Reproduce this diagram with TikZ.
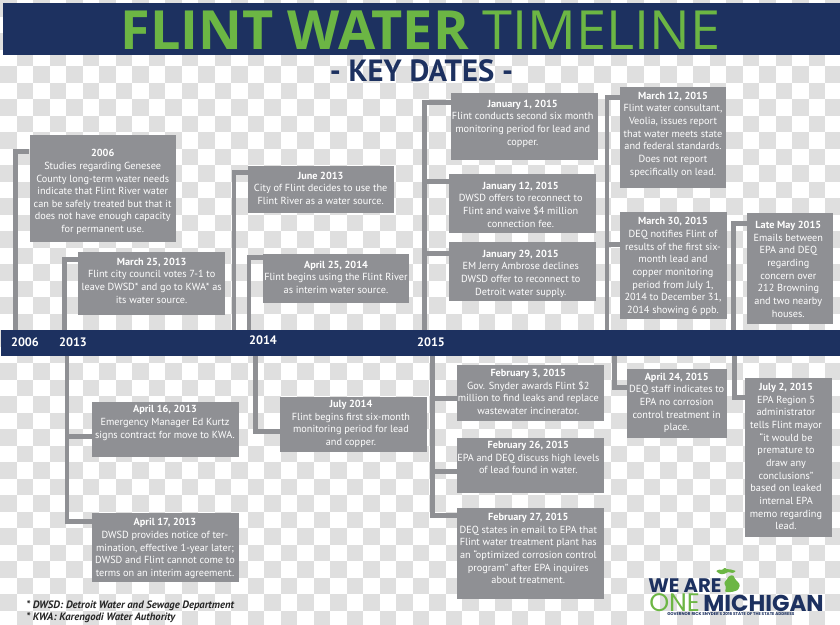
\documentclass[tikz,border=0pt]{standalone}
\usepackage{fontspec}
\setmainfont{PT Sans}
\newfontfamily\titlefont{Open Sans}
\newfontfamily\logofont{Poppins}
\usepackage{xcolor}
\usetikzlibrary{calc,fit,positioning}
\definecolor{navy}{HTML}{1D3160}
\definecolor{leaf}{HTML}{6CB644}
\definecolor{boxgray}{HTML}{8F9094}
\definecolor{gridgray}{HTML}{DFDFDF}
\tikzset{
  evbox/.style={fill=boxgray,inner sep=0pt},
  evtext/.style={anchor=north,align=center,inner sep=0pt,yshift=-1.1pt,text=white,font=\fontsize{7.7}{9.5}\selectfont,execute at begin node=\strut},
  link/.style={draw=boxgray,line width=3.4pt},
  yearlabel/.style={text=white,inner sep=0pt,font=\bfseries\fontsize{9.2}{12}\selectfont},
}
\begin{document}
\begin{tikzpicture}[x=0.75pt,y=-0.75pt]
  \useasboundingbox (0,0) rectangle (840,625);
  % background squares
  \begin{scope}
    \clip (0,0) rectangle (840,625);
    \fill[white] (0,0) rectangle (840,625);
    \foreach \i in {0,...,50}{
      \foreach \j in {0,...,37}{
        \ifodd\numexpr\i+\j\relax\else
          \fill[gridgray] ({16.5*\i},{16.5*\j}) rectangle ++(16.5,16.5);
        \fi
      }
    }
  \end{scope}
  % heading
  \node[fill=navy,inner sep=0pt,fit={(3,3) (840,55)}] (banner) {};
  \node[text=leaf,inner sep=0pt,font=\titlefont\fontsize{40.5}{44}\selectfont] (title) at (420.5,30) {\textbf{FLINT WATER} TIMELINE};
  \node[text=navy,inner sep=0pt,font=\bfseries\fontsize{23}{26}\selectfont] (keydates) at (421.5,70.5) {- KEY DATES -};
  % time bar
  \node[fill=navy,inner sep=0pt,fit={(1,330) (840,356)}] (bar) {};
  \node[yearlabel] (y2006) at (25,342) {2006};
  \node[yearlabel] (y2013) at (73,342) {2013};
  \node[yearlabel] (y2014) at (263,340) {2014};
  \node[yearlabel] (y2015) at (431,342) {2015};
  % boxes above the bar
  \node[evbox,fit={(29.5,135) (176,242)}] (e2006) {};
  \node[evbox,fit={(78,252) (225,315)}] (emar25) {};
  \node[evbox,fit={(248,166) (394,213)}] (ejun13) {};
  \node[evbox,fit={(263,254) (409,303)}] (eapr25) {};
  \node[evbox,fit={(451,93) (598,160)}] (ejan1) {};
  \node[evbox,fit={(449,174) (596,233)}] (ejan12) {};
  \node[evbox,fit={(449,242) (596,301)}] (ejan29) {};
  \node[evbox,fit={(620,87) (726,188)}] (emar12) {};
  \node[evbox,fit={(620,212) (727,319)}] (emar30) {};
  \node[evbox,fit={(747,213) (833,324)}] (elate) {};
  % boxes below the bar
  \node[evbox,fit={(92,402) (239,457)}] (eapr16) {};
  \node[evbox,fit={(92,513) (239,582)}] (eapr17) {};
  \node[evbox,fit={(280,397) (427,452)}] (ejul14) {};
  \node[evbox,fit={(457,365) (604,421)}] (efeb3) {};
  \node[evbox,fit={(457,438) (604,493)}] (efeb26) {};
  \node[evbox,fit={(457,508) (604,599)}] (efeb27) {};
  \node[evbox,fit={(627,369) (727,438)}] (eapr24) {};
  \node[evbox,fit={(745,378) (832,537)}] (ejul2) {};
  % stems
  \coordinate (s2006) at (15.5,0 |- bar.north);
  \coordinate (smar25) at (64.5,0 |- bar.north);
  \coordinate (sjun13) at (234,0 |- bar.north);
  \coordinate (sapr25) at (249,0 |- bar.north);
  \coordinate (sjan) at (424.7,0 |- bar.north);
  \coordinate (smar) at (607,0 |- bar.north);
  \coordinate (slate) at (733.3,0 |- bar.north);
  \coordinate (s2013) at (67,0 |- bar.south);
  \coordinate (sjul14) at (255.5,0 |- bar.south);
  \coordinate (sfeb) at (432.5,0 |- bar.south);
  \coordinate (sapr24) at (614.7,0 |- bar.south);
  \coordinate (sjul2) at (734.7,0 |- bar.south);
  \draw[link] (s2006) |- ($(e2006.north west)+(0,16.5)$);
  \draw[link] (smar25) |- ($(emar25.north west)+(0,8)$);
  \draw[link] (sjun13) |- ($(ejun13.north west)+(0,6.7)$);
  \draw[link] (sapr25) |- ($(eapr25.north west)+(0,4)$);
  \draw[link] (sjan) |- ($(ejan1.north west)+(0,9.5)$);
  \draw[link] (sjan) |- ($(ejan12.north west)+(0,7.5)$);
  \draw[link] (sjan) |- ($(ejan29.north west)+(0,12)$);
  \draw[link] (smar) |- ($(emar12.north west)+(0,10.5)$);
  \draw[link] (smar) |- ($(emar30.north west)+(0,32.7)$);
  \draw[link] (slate) |- ($(elate.north west)+(0,11)$);
  \draw[link] (s2013) |- ($(eapr16.north west)+(0,34.6)$);
  \draw[link] (s2013) |- ($(eapr17.north west)+(0,9)$);
  \draw[link] (sjul14) |- ($(ejul14.north west)+(0,34.5)$);
  \draw[link] (sfeb) |- ($(efeb3.north west)+(0,34)$);
  \draw[link] (sfeb) |- ($(efeb26.north west)+(0,34)$);
  \draw[link] (sfeb) |- ($(efeb27.north west)+(0,8)$);
  \draw[link] (sapr24) |- ($(eapr24.north west)+(0,19)$);
  \draw[link] (sjul2) |- ($(ejul2.north west)+(0,20)$);
  % texts above the bar
  \node[evtext] (t2006) at (102.7,147.6) {\textbf{2006}\\Studies regarding Genesee\\County long-term water needs\\indicate that Flint River water\\can  be safely treated but that it\\does not have enough capacity\\for permanent use.};
  \node[evtext] (tmar25) at (151.7,256) {\textbf{March 25, 2013}\\Flint city council votes 7-1 to\\leave DWSD* and go to KWA* as\\its water source.};
  \node[evtext] (tjun13) at (320.7,170) {\textbf{June 2013}\\City of Flint decides to use the\\Flint River as a water source.};
  \node[evtext] (tapr25) at (336,259) {\textbf{April 25, 2014}\\Flint begins using the Flint River\\as interim water source.};
  \node[evtext] (tjan1) at (522.7,98) {\textbf{January 1, 2015}\\Flint conducts second six month\\monitoring period for lead and\\copper.};
  \node[evtext] (tjan12) at (520.7,180) {\textbf{January 12, 2015}\\DWSD offers to reconnect to\\Flint and waive \$4 million\\connection fee.};
  \node[evtext] (tjan29) at (520.7,248) {\textbf{January 29, 2015}\\EM Jerry Ambrose declines\\DWSD offer to reconnect to\\Detroit water supply.};
  \node[evtext] (tmar12) at (673,90) {\textbf{March 12, 2015}\\Flint water consultant,\\Veolia, issues report\\that water meets state\\and federal standards.\\Does not report\\specifically on lead.};
  \node[evtext] (tmar30) at (673,215.6) {\textbf{March 30, 2015}\\DEQ notifies Flint of\\results of the first six-\\month lead and\\copper monitoring\\period from July 1,\\2014 to December 31,\\2014 showing 6 ppb.};
  \node[evtext] (tlate) at (788.3,219.3) {\textbf{Late May 2015}\\Emails between\\EPA and DEQ\\regarding\\concern over\\212 Browning\\and two nearby\\houses.};
  % texts below the bar
  \node[evtext] (tapr16) at (165,403.6) {\textbf{April 16, 2013}\\Emergency Manager Ed Kurtz\\signs contract for move to KWA.};
  \node[evtext] (tapr17) at (165,516.6) {\textbf{April 17, 2013}\\DWSD provides notice of ter-\\mination, effective 1-year later;\\DWSD and Flint cannot come to\\terms on an interim agreement.};
  \node[evtext] (tjul14) at (351,398.3) {\textbf{July 2014}\\Flint begins first six-month\\monitoring period for lead\\and copper.};
  \node[evtext] (tfeb3) at (528.3,367.3) {\textbf{February 3, 2015}\\Gov. Snyder awards Flint \$2\\million to find leaks and replace\\wastewater incinerator.};
  \node[evtext] (tfeb26) at (528.3,439.3) {\textbf{February 26, 2015}\\EPA and DEQ discuss high levels\\of lead found in water.};
  \node[evtext] (tfeb27) at (528.3,511.3) {\textbf{February 27, 2015}\\DEQ states in email to EPA that\\Flint water treatment plant has\\an “optimized corrosion control\\program” after EPA inquires\\about treatment.};
  \node[evtext] (tapr24) at (676.7,371) {\textbf{April 24, 2015}\\DEQ staff indicates to\\EPA no corrosion\\control treatment in\\place.};
  \node[evtext] (tjul2) at (786,381.3) {\textbf{July 2, 2015}\\EPA Region 5\\administrator\\tells Flint mayor\\“it would be\\premature to\\draw any\\conclusions”\\based on leaked\\internal EPA\\memo regarding\\lead.};
  % footnotes
  \node[anchor=north west,align=left,inner sep=0pt,text=black!85,font=\bfseries\itshape\fontsize{8}{9.5}\selectfont] (notes) at (26,600) {* DWSD: Detroit Water and Sewage Department\\* KWA: Karengodi Water Authority};
  % logo
  \fill[leaf,rounded corners=0.6pt] (716,571) -- (719,569.5) -- (722,570) -- (725,567.5) -- (726,569) -- (731,569.5) -- (736,571) -- (733,573) -- (728,572) -- (724,574) -- (720,574) -- cycle;
  \fill[leaf,rounded corners=0.8pt] (729,576) -- (733,575) -- (735,579) -- (738,582) -- (740,585) -- (738,590) -- (732,592) -- (725,592) -- (726,587) -- (724,583) -- (727,579) -- cycle;
  \node[anchor=base west,inner sep=0pt,text=navy,font=\logofont\bfseries\fontsize{14.7}{16}\selectfont] (logowe) at (648,592) {WE ARE};
  \node[anchor=base west,inner sep=0pt,text=leaf,font=\logofont\fontsize{19}{22}\selectfont] (logoone) at (649,611.5) {ONE};
  \node[anchor=base west,inner sep=0pt,text=navy,font=\logofont\bfseries\fontsize{17.2}{22}\selectfont] (logomich) at (703,611.5) {MICHIGAN};
  \node[anchor=base west,inner sep=0pt,text=navy,font=\logofont\bfseries\fontsize{3.1}{4}\selectfont] (logoline) at (667,615.5) {GOVERNOR RICK SNYDER'S 2016 STATE OF THE STATE ADDRESS};
\end{tikzpicture}
\end{document}
